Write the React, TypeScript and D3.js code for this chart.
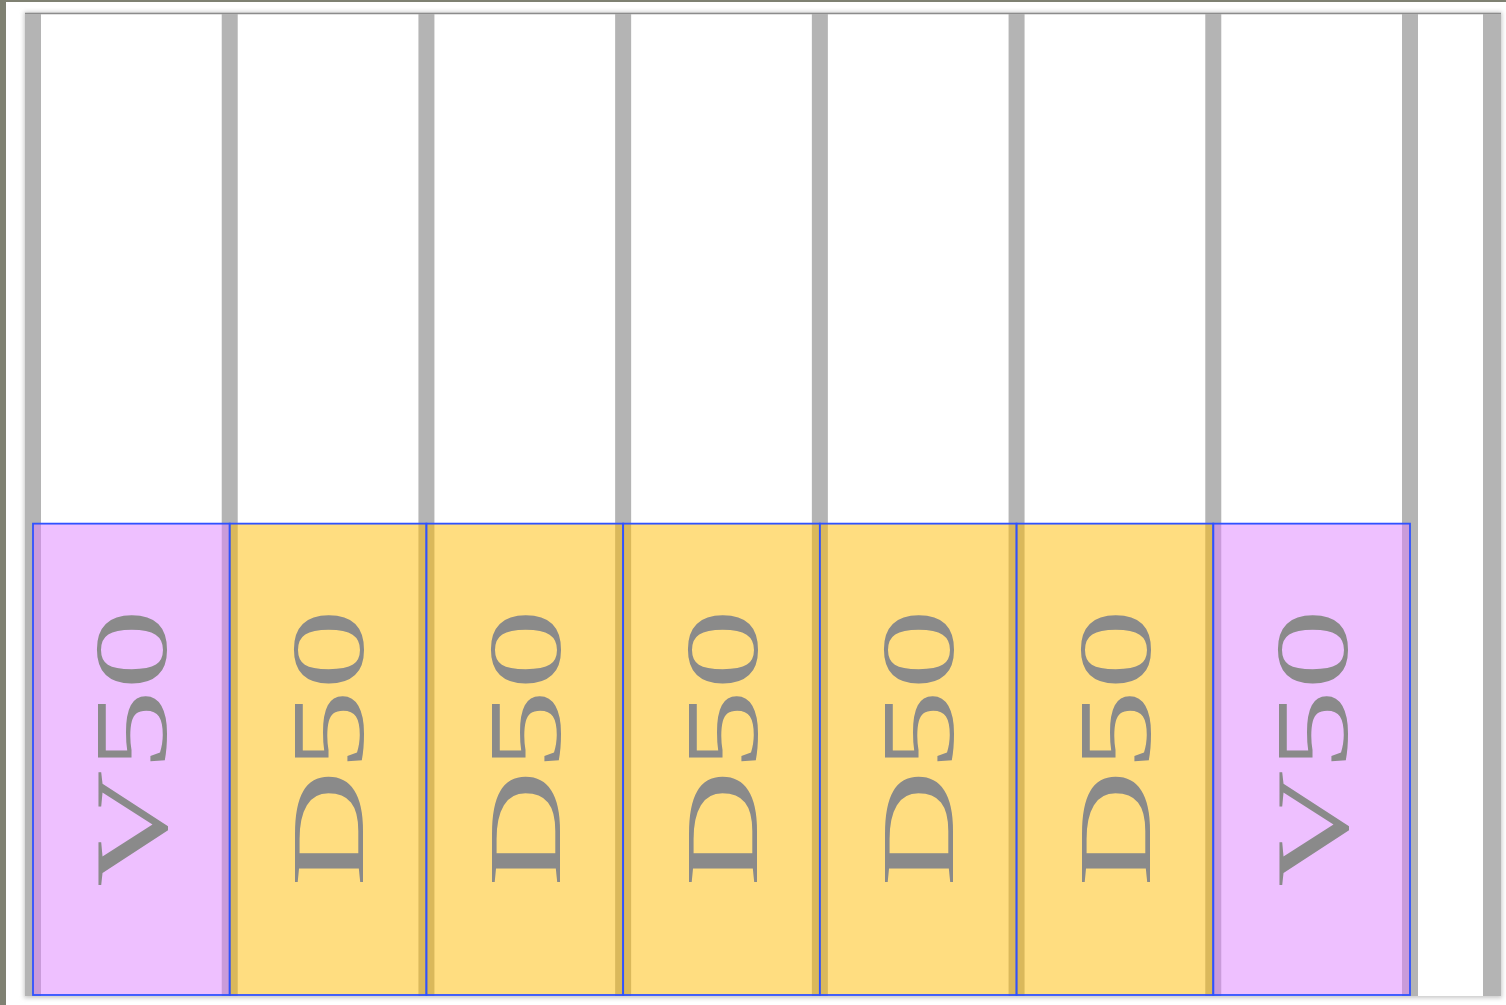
import * as d3 from 'd3';
import { useMemo } from 'react';

// cells in the lower row, left to right
const labels = ['V50', 'D50', 'D50', 'D50', 'D50', 'D50', 'V50'];
const kinds = ['V', 'D', 'D', 'D', 'D', 'D', 'V'];
const fillLevel = 48; // share of the panel height (percent) the cells take up

const kindColors: Record<string, string> = { V: '#dd81ff', D: '#ffbb02' };

const WIDTH = 1506;
const HEIGHT = 1005;

export default function App() {
  const xScale = useMemo(
    () => d3.scaleBand<number>().domain(d3.range(labels.length)).range([33, 1410]).padding(0),
    []
  );
  const yScale = useMemo(() => d3.scaleLinear().domain([0, 100]).range([995, 13]), []);

  const bw = xScale.bandwidth();
  const boundaries = d3.range(labels.length + 1).map((i) => 33 + i * bw);

  return (
    <svg
      width={WIDTH}
      height={HEIGHT}
      style={{ position: 'absolute', left: 0, top: 0, display: 'block' }}
    >
      <defs>
        <filter id="shadow" x="-5%" y="-5%" width="110%" height="110%">
          <feGaussianBlur stdDeviation="2" />
        </filter>
        <filter id="soft" x="-20%" y="-1%" width="140%" height="102%">
          <feGaussianBlur stdDeviation="0.6" />
        </filter>
      </defs>

      {/* screenshot frame */}
      <rect x={0} y={0} width={WIDTH} height={HEIGHT} fill="#ffffff" />
      <rect x={0} y={0} width={6} height={HEIGHT} fill="#7f8172" />
      <rect x={0} y={0} width={WIDTH} height={2} fill="#7f8172" />

      {/* panel */}
      <rect x={24} y={12} width={1478} height={986} fill="#c8c8c8" filter="url(#shadow)" />
      <rect x={25} y={13} width={1476} height={983} fill="#ffffff" />
      <line x1={25} x2={1501} y1={13.5} y2={13.5} stroke="#8c8c8c" strokeWidth={1.4} />

      {/* grey separators */}
      <g filter="url(#soft)">
        {boundaries.map((b, i) => (
          <rect key={i} x={b - 8} y={14} width={16} height={982} fill="#b4b4b4" />
        ))}
        <rect x={1483} y={14} width={18} height={982} fill="#b4b4b4" />
      </g>

      {/* cells */}
      {labels.map((label, i) => {
        const x = xScale(i) ?? 0;
        const y0 = yScale(fillLevel);
        const y1 = yScale(0);
        const cx = x + bw / 2;
        return (
          <g key={i}>
            <rect
              x={x}
              y={y0}
              width={bw}
              height={y1 - y0}
              fill={kindColors[kinds[i]]}
              fillOpacity={0.5}
              stroke="#2f52ff"
              strokeWidth={1.8}
            />
            <text
              transform={`translate(${cx + 35},748) rotate(-90) scale(1.55,1)`}
              textAnchor="middle"
              fontFamily="'Liberation Serif', 'Times New Roman', serif"
              fontSize={104}
              fill="#8a8a8a"
            >
              {label}
            </text>
          </g>
        );
      })}
    </svg>
  );
}
